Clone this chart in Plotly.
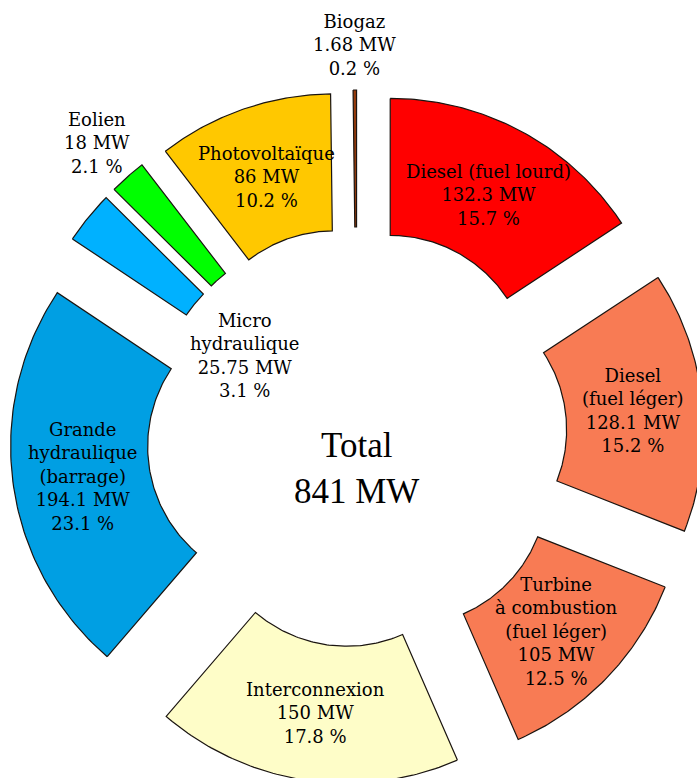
import numpy as np
import plotly.graph_objects as go

# sources d'énergie, dans le sens horaire depuis le haut
sources = ["Diesel (fuel lourd)", "Diesel<br>(fuel léger)", "Turbine<br>à combustion<br>(fuel léger)",
           "Interconnexion", "Grande<br>hydraulique<br>(barrage)", "Micro<br>hydraulique",
           "Eolien", "Photovoltaïque", "Biogaz"]
power_mw = [132.3, 128.1, 105, 150, 194.1, 25.75, 18, 86, 1.68]
colors = ["#FF0000", "#F87B54", "#F87B54", "#FEFDC8", "#009FE3",
          "#00B1FF", "#00FF00", "#FFC800", "#953B0C"]
label_place = ["in", "in", "in", "in", "in", "hole", "out", "in", "out"]

W, H = 697, 778
cx, cy = 357, 437          # centre de la roue (px)
r_in, r_out = 140, 277     # rayons intérieur / extérieur
explode = 70               # décalage de chaque part
label_r = {"in": 207, "hole": 70, "out": 324}

total = sum(power_mw)
fig = go.Figure()
annotations = []
start = 0.0
for name, val, col, place in zip(sources, power_mw, colors, label_place):
    span = val / total * 360
    a0, a1 = start, start + span
    mid = np.radians((a0 + a1) / 2)
    ox = cx + explode * np.sin(mid)
    oy = cy - explode * np.cos(mid)
    t_out = np.radians(np.linspace(a0, a1, 80))
    t_in = t_out[::-1]
    xs = np.concatenate([ox + r_out * np.sin(t_out), ox + r_in * np.sin(t_in)])
    ys = np.concatenate([oy - r_out * np.cos(t_out), oy - r_in * np.cos(t_in)])
    xs = np.append(xs, xs[0])
    ys = np.append(ys, ys[0])
    fig.add_trace(go.Scatter(x=xs, y=ys, mode="lines", fill="toself", fillcolor=col,
                             line=dict(color="#1a1410", width=1.2), hoverinfo="skip",
                             showlegend=False))
    lr = label_r[place]
    # le label du micro-hydraulique est un peu tourné vers le bas
    ang = mid - np.radians(5) if place == "hole" else mid
    annotations.append(dict(
        x=ox + lr * np.sin(ang), y=oy - lr * np.cos(ang) + 2,
        text=f"{name}<br>{val:g} MW<br>{val / total * 100:.1f} %",
        showarrow=False, xanchor="center", yanchor="middle",
        font=dict(family="DejaVu Serif", size=18, color="black")))
    start = a1

annotations.append(dict(x=356, y=468, text=f"Total<br>{total:.0f} MW", showarrow=False,
                        xanchor="center", yanchor="middle",
                        font=dict(family="Liberation Serif", size=35, color="black")))

fig.update_layout(
    width=W, height=H,
    margin=dict(l=0, r=0, t=0, b=0),
    paper_bgcolor="white", plot_bgcolor="white",
    xaxis=dict(range=[0, W], visible=False, fixedrange=True),
    yaxis=dict(range=[H, 0], visible=False, fixedrange=True),
    annotations=annotations,
)
fig.write_html("out.html", config={"displayModeBar": False},
               post_script="document.body.style.margin='0';")
